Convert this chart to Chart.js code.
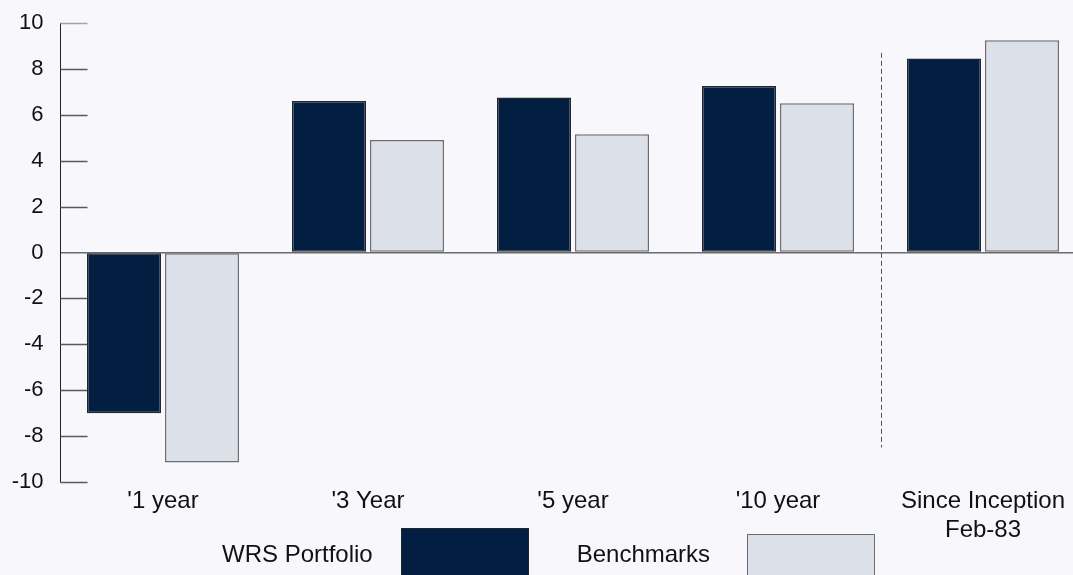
<!DOCTYPE html>
<html>
<head>
<meta charset="utf-8">
<script src="https://cdn.jsdelivr.net/npm/chart.js@4.4.1/dist/chart.umd.min.js"></script>
<style>
  html, body { margin: 0; padding: 0; background: #f8f7fb; overflow: hidden; }
  #wrap { position: relative; width: 1096px; height: 575px; }
  #legend {
    position: absolute; left: 222px; top: 528px;
    display: flex; align-items: flex-start;
    font: 24px "Liberation Sans", Arial, sans-serif; color: #111;
  }
  .item { display: flex; align-items: flex-start; margin-right: 48px; }
  .item span { margin-top: 12px; margin-right: 28px; line-height: 27px; white-space: nowrap; }
  .item i { display: block; width: 128px; height: 60px; box-sizing: border-box; border: 1px solid; }
  .item:last-child span { margin-right: 37px; }
  .item:last-child i { margin-top: 6px; }
</style>
</head>
<body>
<div id="wrap">
  <canvas id="returns-chart"></canvas>
  <div id="legend"></div>
</div>

<script>
// ===== 1. Data =====
const categories = ["'1 year", "'3 Year", "'5 year", "'10 year", ['Since Inception', 'Feb-83']];
const wrsPortfolio = [-7.0, 6.6, 6.75, 7.25, 8.45];
const benchmarks = [-9.15, 4.9, 5.15, 6.5, 9.25];

// y axis range and step
const yMin = -10;
const yMax = 10;
const yStep = 2;

// dashed separator before "Since Inception", in axis units
const dividerTop = 8.7;
const dividerBottom = -8.5;


// ===== 2. Extra axis details =====
// short inward tick marks on the y axis + dashed separator
const axisDetails = {
  id: 'axisDetails',
  beforeDatasetsDraw(chart) {
    const { ctx, chartArea, scales: { x, y } } = chart;
    ctx.save();

    y.ticks.forEach(t => {
      if (t.value === 0) return;
      const py = Math.round(y.getPixelForValue(t.value)) + 0.5;
      ctx.strokeStyle = t.value === yMax ? '#a3a3a3' : '#5a5a5a';
      ctx.lineWidth = 1.5;
      ctx.beginPath();
      ctx.moveTo(chartArea.left, py);
      ctx.lineTo(chartArea.left + 27, py);
      ctx.stroke();
    });

    const px = Math.round((x.getPixelForValue(3) + x.getPixelForValue(4)) / 2) + 0.5;
    ctx.strokeStyle = '#555';
    ctx.lineWidth = 1;
    ctx.setLineDash([5, 3]);
    ctx.beginPath();
    ctx.moveTo(px, y.getPixelForValue(dividerTop));
    ctx.lineTo(px, y.getPixelForValue(dividerBottom));
    ctx.stroke();

    ctx.restore();
  }
};


// ===== 3. Chart =====
const ctx = document.getElementById('returns-chart');
const font = { family: '"Liberation Sans", Arial, sans-serif' };

const chart = new Chart(ctx, {
  type: 'bar',

  data: {
    labels: categories,
    datasets: [
      {
        label: 'WRS Portfolio',
        data: wrsPortfolio,
        backgroundColor: '#021f41',
        borderColor: '#1f2630',
        borderWidth: 1.5,
        borderSkipped: false
      },
      {
        label: 'Benchmarks',
        data: benchmarks,
        backgroundColor: '#dce1e9',
        borderColor: '#6e6e72',
        borderWidth: 1.5,
        borderSkipped: false
      }
    ]
  },

  options: {
    responsive: true,
    maintainAspectRatio: false,
    animation: false,

    categoryPercentage: 0.761,
    barPercentage: 0.949,

    layout: {
      padding: { top: 23, right: 10.5, bottom: 33.4, left: 11.7 }
    },

    plugins: {
      legend: { display: false },
      tooltip: { enabled: false }
    },

    scales: {
      x: {
        grid: { display: false },
        border: { display: false },
        ticks: {
          color: '#111',
          padding: -3,
          maxRotation: 0,
          autoSkip: false,
          font: { ...font, size: 24, lineHeight: 1.2 }
        }
      },

      y: {
        min: yMin,
        max: yMax,
        // fixed width ("-10" plus 17px gap), no extra room above/below
        afterFit: scale => {
          scale.width = 48.8;
          scale.paddingTop = 0;
          scale.paddingBottom = 0;
        },
        grid: {
          drawTicks: false,
          lineWidth: 1.5,
          color: c => c.tick && c.tick.value === 0 ? '#6b6b6b' : 'transparent'
        },
        border: { display: true, color: '#222', width: 1 },
        ticks: {
          stepSize: yStep,
          color: '#111',
          padding: 17,
          font: { ...font, size: 22 }
        }
      }
    }
  },

  plugins: [axisDetails]
});


// ===== 4. Legend (text left of swatch) =====
const legend = document.getElementById('legend');
chart.data.datasets.forEach(ds => {
  const item = document.createElement('div');
  item.className = 'item';
  const label = document.createElement('span');
  label.textContent = ds.label;
  const swatch = document.createElement('i');
  swatch.style.background = ds.backgroundColor;
  swatch.style.borderColor = ds.borderColor;
  item.append(label, swatch);
  legend.append(item);
});
</script>
</body>
</html>
